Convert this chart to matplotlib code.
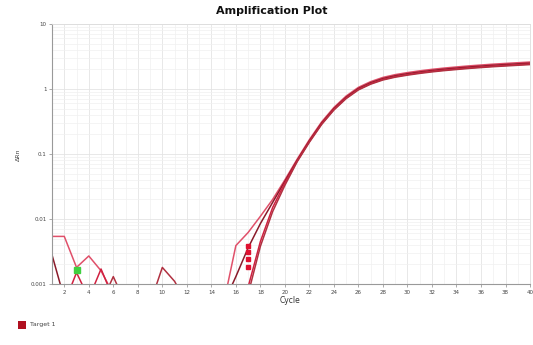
import numpy as np
import matplotlib
matplotlib.use("Agg")
import matplotlib.pyplot as plt
from matplotlib.patches import Rectangle

cycles = np.arange(1, 41)

# Shared plateau-phase values (cycles 21..40)
tail = [0.08, 0.16, 0.30, 0.50, 0.75, 1.02, 1.25, 1.45, 1.60, 1.72,
        1.83, 1.93, 2.02, 2.10, 2.18, 2.25, 2.32, 2.38, 2.44, 2.50]

well_1 = [0.0054, 0.0054, 0.0018, 0.0027, 0.0016, 0.0007, 0.0005, 0.0005, 0.0005, 0.0005,
          0.0005, 0.0005, 0.0005, 0.0005, 0.0005, 0.0039, 0.0062, 0.0110, 0.0200, 0.0400] + [v * 1.04 for v in tail]
well_2 = [0.0028, 0.0006, 0.0005, 0.0005, 0.0005, 0.0005, 0.0005, 0.0005, 0.0005, 0.0005,
          0.0005, 0.0005, 0.0005, 0.0005, 0.0005, 0.0013, 0.0036, 0.0085, 0.0180, 0.0380] + [v * 1.0 for v in tail]
well_3 = [0.0005, 0.0005, 0.0015, 0.0006, 0.0017, 0.0006, 0.0005, 0.0005, 0.0005, 0.0005,
          0.0005, 0.0005, 0.0005, 0.0005, 0.0005, 0.0005, 0.0009, 0.0045, 0.0150, 0.0360] + [v * 0.97 for v in tail]
well_4 = [0.0005, 0.0005, 0.0005, 0.0005, 0.0005, 0.0013, 0.0005, 0.0005, 0.0005, 0.0018,
          0.0011, 0.0005, 0.0005, 0.0005, 0.0005, 0.0005, 0.0007, 0.0038, 0.0130, 0.0330] + [v * 0.95 for v in tail]

wells = [well_1, well_2, well_3, well_4]
well_colors = ["#e0506a", "#8a1a2a", "#d02040", "#b03040"]

# Ct marker points
ct_cycles = [17.0, 17.0, 17.0, 17.0]
ct_values = [0.0038, 0.0031, 0.0024, 0.0018]
noise_marker_cycle = [3.0]
noise_marker_value = [0.00165]

x_ticks = list(range(2, 41, 2))
y_ticks = [0.001, 0.01, 0.1, 1, 10]
y_tick_labels = ["0.001", "0.01", "0.1", "1", "10"]

fig = plt.figure(figsize=(5.33, 3.45), dpi=100)
ax = fig.add_axes([0.0976, 0.1768, 0.8968, 0.7536])
ax.set_yscale("log")
ax.set_xlim(1, 40)
ax.set_ylim(0.001, 10)

for w, c in zip(wells, well_colors):
    ax.plot(cycles, w, color=c, lw=1.1, solid_joinstyle="round")

ax.plot(ct_cycles, ct_values, ls="none", marker="s", ms=3.2, color="#e01030")
ax.plot(noise_marker_cycle, noise_marker_value, ls="none", marker="s", ms=4, color="#40d040")

ax.set_xticks(x_ticks)
ax.set_xticklabels([str(t) for t in x_ticks], fontsize=4, color="#444444")
ax.set_yticks(y_ticks)
ax.set_yticklabels(y_tick_labels, fontsize=4, color="#444444")
ax.tick_params(axis="both", length=2, width=0.5, color="#888888", pad=2)
ax.tick_params(axis="y", which="minor", length=0)
ax.set_xticks(np.arange(1, 41, 1), minor=True)
ax.tick_params(axis="x", which="minor", length=0)

ax.grid(True, which="major", color="#e4e4e4", lw=0.6)
ax.grid(True, which="minor", color="#f0f0f0", lw=0.5)
ax.set_axisbelow(True)

for side in ["left", "bottom"]:
    ax.spines[side].set_color("#999999")
    ax.spines[side].set_linewidth(0.8)
for side in ["top", "right"]:
    ax.spines[side].set_color("#dddddd")
    ax.spines[side].set_linewidth(0.6)

fig.text(0.51, 0.968, "Amplification Plot", ha="center", va="center",
         fontsize=8, fontweight="bold", color="#111111")
fig.text(0.545, 0.128, "Cycle", ha="center", va="center", fontsize=5.5, color="#333333")
fig.text(0.034, 0.55, "ΔRn", ha="center", va="center", rotation=90, fontsize=4.5, color="#444444")

fig.patches.append(Rectangle((0.034, 0.047), 0.015, 0.023, transform=fig.transFigure,
                             facecolor="#b01020", edgecolor="none"))
fig.text(0.057, 0.058, "Target 1", ha="left", va="center", fontsize=4.5, color="#444444")

fig.savefig("out.png", dpi=100)
